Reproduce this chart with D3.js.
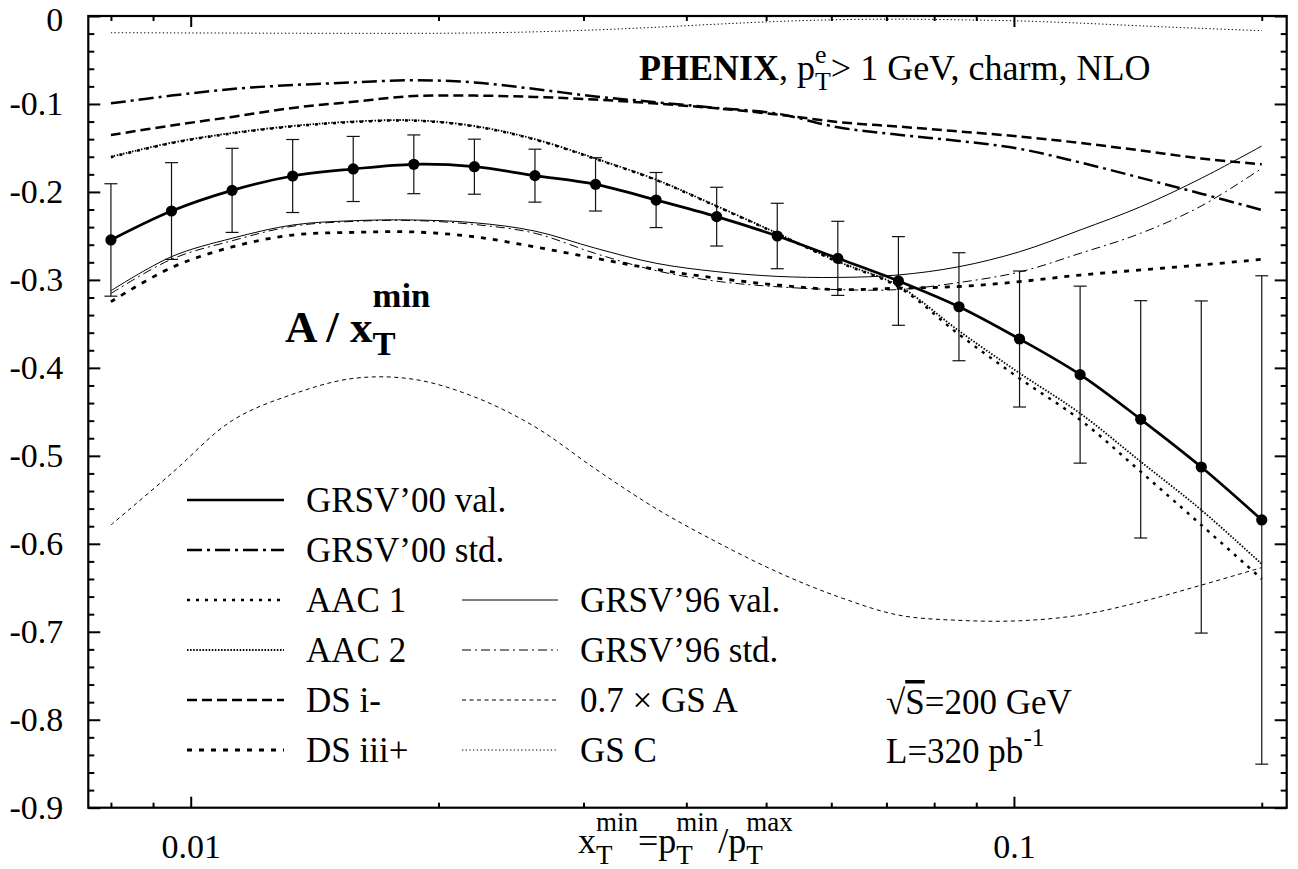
<!DOCTYPE html>
<html><head><meta charset="utf-8">
<script src="https://cdn.jsdelivr.net/npm/d3@7"></script>
<style>
body{margin:0;background:#fff}
svg{display:block;background:#fff}
text{font-family:"Liberation Serif","Times New Roman",serif;fill:#000}
</style>
</head><body>
<svg id="chart" width="1298" height="869"></svg>
<script>
// ---------------- data ----------------
const xGrid = [0.008, 0.009477, 0.011227, 0.0133, 0.015755, 0.018664, 0.02211, 0.026192, 0.031028, 0.036756,
               0.043542, 0.051581, 0.061104, 0.072385, 0.085749, 0.10158, 0.120334, 0.14255, 0.168868, 0.2];
const grsv00Val = [-0.2546, -0.2217, -0.1982, -0.1819, -0.1739, -0.1686, -0.1713, -0.1815, -0.1914, -0.2092,
                   -0.2281, -0.2501, -0.2755, -0.3012, -0.3305, -0.3672, -0.4077, -0.4585, -0.5127, -0.5729];
const grsv00Err = [0.0639, 0.055, 0.0478, 0.0415, 0.037, 0.0334, 0.0313, 0.0301, 0.0303, 0.0313,
                   0.0334, 0.0372, 0.0421, 0.0504, 0.0614, 0.0773, 0.1006, 0.1349, 0.1888, 0.2776];
const grsv00Std = [-0.0993, -0.0905, -0.083, -0.0785, -0.0755, -0.073, -0.0755, -0.083, -0.0915, -0.098,
                   -0.1045, -0.111, -0.1265, -0.135, -0.142, -0.151, -0.1665, -0.184, -0.202, -0.2205];
const aac1 = [-0.1605, -0.1445, -0.1335, -0.1255, -0.1205, -0.119, -0.1255, -0.1405, -0.1625, -0.1865,
              -0.2165, -0.2475, -0.2795, -0.308, -0.362, -0.412, -0.459, -0.518, -0.5786, -0.64];
const aac2 = [-0.16, -0.144, -0.133, -0.125, -0.12, -0.1185, -0.125, -0.14, -0.162, -0.186,
              -0.216, -0.247, -0.279, -0.3065, -0.358, -0.406, -0.4517, -0.5066, -0.5616, -0.623];
const dsIminus = [-0.1353, -0.1245, -0.1147, -0.1045, -0.0975, -0.091, -0.0905, -0.092, -0.095, -0.0995,
                  -0.105, -0.112, -0.1205, -0.1257, -0.1312, -0.137, -0.1443, -0.1528, -0.162, -0.1686];
const dsIIIplus = [-0.3248, -0.286, -0.2625, -0.249, -0.246, -0.2455, -0.251, -0.2625, -0.2755, -0.288,
                   -0.298, -0.3058, -0.311, -0.3095, -0.3075, -0.302, -0.2945, -0.2887, -0.283, -0.2766];
const grsv96Val = [-0.3123, -0.2736, -0.2527, -0.2376, -0.2327, -0.2319, -0.235, -0.2445, -0.264, -0.2811,
                   -0.2906, -0.296, -0.2972, -0.2944, -0.285, -0.268, -0.2433, -0.2168, -0.1845, -0.1478];
const grsv96Std = [-0.3155, -0.2765, -0.2555, -0.239, -0.2335, -0.2325, -0.237, -0.247, -0.27, -0.2895,
                   -0.3015, -0.3078, -0.311, -0.311, -0.303, -0.291, -0.2698, -0.247, -0.216, -0.1732];
const gsA07 = [-0.5786, -0.52, -0.46, -0.43, -0.412, -0.413, -0.433, -0.467, -0.515, -0.56,
               -0.598, -0.632, -0.66, -0.681, -0.687, -0.6875, -0.681, -0.666, -0.647, -0.627];
const gsC = [-0.019, -0.0192, -0.0194, -0.0196, -0.0197, -0.0197, -0.0193, -0.018, -0.0158, -0.0128,
             -0.0093, -0.0062, -0.0042, -0.0036, -0.0043, -0.0056, -0.0081, -0.0112, -0.0141, -0.0167];

const yMajorTicks = [0, -0.1, -0.2, -0.3, -0.4, -0.5, -0.6, -0.7, -0.8, -0.9];
const yMinorTicks = [-0.02,-0.04,-0.06,-0.08,-0.12,-0.14,-0.16,-0.18,-0.22,-0.24,-0.26,-0.28,-0.32,-0.34,-0.36,-0.38,
                     -0.42,-0.44,-0.46,-0.48,-0.52,-0.54,-0.56,-0.58,-0.62,-0.64,-0.66,-0.68,-0.72,-0.74,-0.76,-0.78,
                     -0.82,-0.84,-0.86,-0.88];
const xMajorTicks = [0.01, 0.1];
const xMinorTicks = [0.008, 0.009, 0.02, 0.03, 0.04, 0.05, 0.06, 0.07, 0.08, 0.09, 0.2];
const xTickLabels = ["0.01", "0.1"];

const legendLeft = ["GRSV\u201900 val.", "GRSV\u201900 std.", "AAC 1", "AAC 2", "DS i-", "DS iii+"];
const legendRight = ["GRSV\u201996 val.", "GRSV\u201996 std.", "0.7 \u00d7 GS A", "GS C"];

// ---------------- styles ----------------
const st = {
  grsv00Val: {w: 2.7, dash: null},
  grsv00Std: {w: 2.5, dash: "15,5,3,5"},
  aac1:      {w: 2.5, dash: "3,6"},
  aac2:      {w: 1.8, dash: "1.5,1.6"},
  dsI:       {w: 2.5, dash: "10,5"},
  dsIII:     {w: 2.8, dash: "5,7"},
  grsv96Val: {w: 1.0, dash: null},
  grsv96Std: {w: 1.0, dash: "9,4,2,4"},
  gsA:       {w: 1.0, dash: "4,3.5"},
  gsC:       {w: 1.0, dash: "1.3,2.4"}
};

const svg = d3.select("#chart");
const L = 88.3, R = 1286.7, T = 16, B = 807.7;
const FS = 34;

const x = d3.scaleLog().domain([0.0075093, 0.21445]).range([L, R]);
const y = d3.scaleLinear().domain([-0.9, 0]).range([B, T]);

svg.append("defs").append("clipPath").attr("id", "clip")
  .append("rect").attr("x", L).attr("y", T).attr("width", R - L).attr("height", B - T);

// ---------------- axes ----------------
function styleAxis(g) {
  g.select(".domain").remove();
  g.selectAll("line").attr("stroke", "#000").attr("stroke-width", 2);
  g.selectAll("text").style("font-family", '"Liberation Serif","Times New Roman",serif')
    .style("font-size", FS + "px").attr("fill", "#000");
}
svg.append("g").attr("transform", `translate(${L},0)`)
  .call(d3.axisLeft(y).tickValues(yMajorTicks).tickSize(-12).tickPadding(25)
    .tickFormat(d => d === 0 ? "0" : d3.format(".1f")(d).replace("\u2212", "-")))
  .call(styleAxis)
  .call(g => g.selectAll(".tick").filter(d => d === 0).select("text").attr("dy", "0.42em"));
svg.append("g").attr("transform", `translate(${L},0)`)
  .call(d3.axisLeft(y).tickValues(yMinorTicks).tickSize(-6).tickFormat("")).call(styleAxis);
svg.append("g").attr("transform", `translate(${R},0)`)
  .call(d3.axisRight(y).tickValues(yMajorTicks).tickSize(-12).tickFormat("")).call(styleAxis);
svg.append("g").attr("transform", `translate(${R},0)`)
  .call(d3.axisRight(y).tickValues(yMinorTicks).tickSize(-6).tickFormat("")).call(styleAxis);

svg.append("g").attr("transform", `translate(0,${B})`)
  .call(d3.axisBottom(x).tickValues(xMajorTicks).tickSize(-11).tickPadding(26)
    .tickFormat((d, i) => xTickLabels[i]))
  .call(styleAxis);
svg.append("g").attr("transform", `translate(0,${B})`)
  .call(d3.axisBottom(x).tickValues(xMinorTicks).tickSize(-5).tickFormat("")).call(styleAxis);
svg.append("g").attr("transform", `translate(0,${T})`)
  .call(d3.axisTop(x).tickValues(xMajorTicks).tickSize(-11).tickFormat("")).call(styleAxis);
svg.append("g").attr("transform", `translate(0,${T})`)
  .call(d3.axisTop(x).tickValues(xMinorTicks).tickSize(-5).tickFormat("")).call(styleAxis);

// ---------------- curves ----------------
const plot = svg.append("g").attr("clip-path", "url(#clip)");
const lineGen = d3.line().x((d, i) => x(xGrid[i])).y(d => y(d)).curve(d3.curveCatmullRom.alpha(0.5));
function drawCurve(vals, s) {
  plot.append("path").attr("d", lineGen(vals)).attr("fill", "none")
    .attr("stroke", "#000").attr("stroke-width", s.w)
    .attr("stroke-dasharray", s.dash);
}
drawCurve(gsC, st.gsC);
drawCurve(gsA07, st.gsA);
drawCurve(grsv96Val, st.grsv96Val);
drawCurve(grsv96Std, st.grsv96Std);
drawCurve(dsIIIplus, st.dsIII);
drawCurve(dsIminus, st.dsI);
drawCurve(aac1, st.aac1);
drawCurve(aac2, st.aac2);
drawCurve(grsv00Std, st.grsv00Std);
drawCurve(grsv00Val, st.grsv00Val);

// error bars
const eb = svg.append("g").attr("stroke", "#111").attr("stroke-width", 1.2);
grsv00Val.forEach((v, i) => {
  const cx = x(xGrid[i]);
  const y1 = y(v + grsv00Err[i]), y2 = y(v - grsv00Err[i]);
  eb.append("line").attr("x1", cx).attr("x2", cx).attr("y1", y1).attr("y2", y2);
  eb.append("line").attr("x1", cx - 6.5).attr("x2", cx + 6.5).attr("y1", y1).attr("y2", y1);
  eb.append("line").attr("x1", cx - 6.5).attr("x2", cx + 6.5).attr("y1", y2).attr("y2", y2);
});
svg.append("g").selectAll("circle").data(grsv00Val).join("circle")
  .attr("cx", (d, i) => x(xGrid[i])).attr("cy", d => y(d)).attr("r", 5.6).attr("fill", "#000");

// frame
svg.append("rect").attr("x", L).attr("y", T).attr("width", R - L).attr("height", B - T)
  .attr("fill", "none").attr("stroke", "#000").attr("stroke-width", 2.2);

// ---------------- rich text helper ----------------
function rich(x0, y0, parts, fs, opts = {}) {
  const g = svg.append("g");
  let cx = x0;
  const sm = fs * (opts.ratio || 0.75);
  const subOff = opts.subOff !== undefined ? opts.subOff : 0.3;
  const supOff = opts.supOff !== undefined ? opts.supOff : 0.45;
  function put(t, px, py, size, bold) {
    const n = g.append("text").attr("x", px).attr("y", py).text(t)
      .style("font-size", size + "px").style("font-weight", bold ? "bold" : "normal");
    return n.node().getComputedTextLength();
  }
  parts.forEach(p => {
    const bold = !!p.b || !!opts.bold;
    if (p.t !== undefined) cx += put(p.t, cx, y0, fs, bold);
    else {
      let w = 0;
      if (p.sub) w = Math.max(w, put(p.sub, cx, y0 + fs * subOff, sm, bold));
      if (p.sup) w = Math.max(w, put(p.sup, cx, y0 - fs * supOff, sm, bold));
      cx += w;
    }
  });
  return g;
}

// title
rich(639, 80, [{t: "PHENIX", b: true}, {t: ", p"}, {sub: "T", sup: "e"}, {t: "> 1 GeV, charm, NLO"}], 36,
     {ratio: 0.72, subOff: 0.28, supOff: 0.47});
// big label
rich(285, 342, [{t: "A / x"}, {sub: "T", sup: "min"}], 45, {bold: true, ratio: 0.77, subOff: 0.29, supOff: 0.78});
// x axis label
rich(578, 853, [{t: "x"}, {sub: "T", sup: "min"}, {t: "=p"}, {sub: "T", sup: "min"}, {t: "/p"}, {sub: "T", sup: "max"}],
     36, {ratio: 0.75, subOff: 0.3, supOff: 0.6});

// sqrt(S) and luminosity
const sq = svg.append("text").attr("x", 886).attr("y", 714).style("font-size", "35px");
sq.append("tspan").text("\u221a");
sq.append("tspan").text("S").style("text-decoration", "overline");
sq.append("tspan").text("=200 GeV");
rich(886, 763, [{t: "L=320 pb"}, {sup: "-1"}], 35, {ratio: 0.72, supOff: 0.5});

// ---------------- legend ----------------
const legStylesLeft = [st.grsv00Val, st.grsv00Std, st.aac1, st.aac2, st.dsI, st.dsIII];
const legStylesRight = [st.grsv96Val, st.grsv96Std, st.gsA, st.gsC];
const leg = svg.append("g");
legendLeft.forEach((name, i) => {
  const yy = 500 + i * 50;
  const s = legStylesLeft[i];
  leg.append("line").attr("x1", 187).attr("x2", 284).attr("y1", yy).attr("y2", yy)
    .attr("stroke", "#000").attr("stroke-width", s.w).attr("stroke-dasharray", s.dash);
  leg.append("text").attr("x", 306).attr("y", yy + 12).text(name).style("font-size", "35px");
});
legendRight.forEach((name, i) => {
  const yy = 600 + i * 50;
  const s = legStylesRight[i];
  leg.append("line").attr("x1", 462).attr("x2", 558).attr("y1", yy).attr("y2", yy)
    .attr("stroke", "#000").attr("stroke-width", s.w).attr("stroke-dasharray", s.dash);
  leg.append("text").attr("x", 580).attr("y", yy + 12).text(name).style("font-size", "35px");
});
</script>
</body></html>
